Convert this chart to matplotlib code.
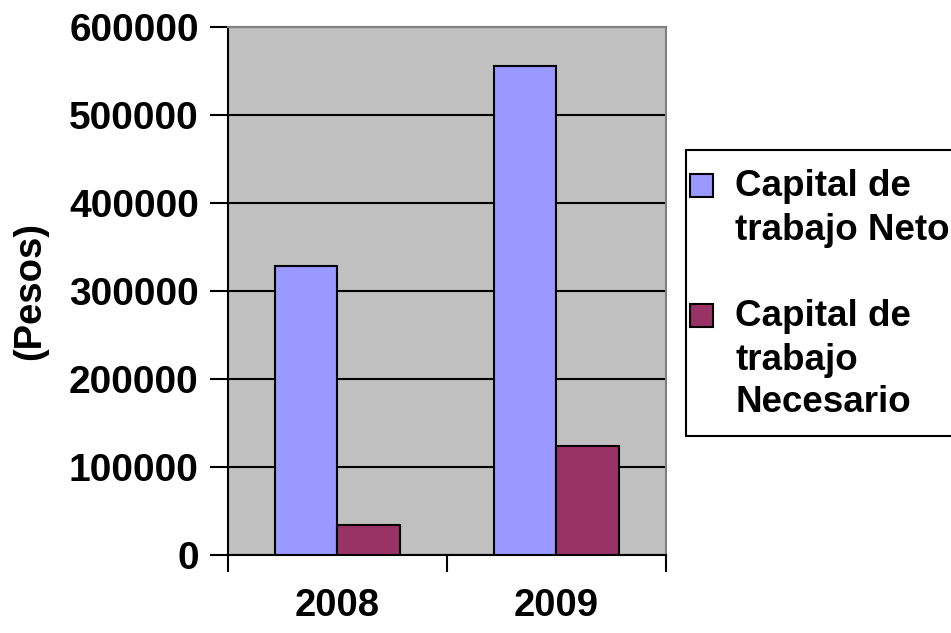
import matplotlib
matplotlib.use("Agg")
import matplotlib.pyplot as plt
from matplotlib.patches import Rectangle
import numpy as np

years = ["2008", "2009"]
neto = [328000, 555500]
necesario = [33800, 123500]
series_names = ["Capital de\ntrabajo Neto", "Capital de\ntrabajo\nNecesario"]
series_colors = ["#9999FF", "#993366"]
y_ticks = [0, 100000, 200000, 300000, 400000, 500000, 600000]

plt.rcParams['font.family'] = ['Liberation Sans', 'DejaVu Sans']
plt.rcParams['font.weight'] = 'bold'

fig = plt.figure(figsize=(9.51, 6.33), dpi=100)
ax = fig.add_axes([0.2397, 0.1232, 0.4606, 0.8341])
ax.set_facecolor("#C0C0C0")

x = np.arange(len(years))
w = 1 / 3.5  # gap width 150%
ax.bar(x - w / 2, neto, w, color=series_colors[0], edgecolor="black", linewidth=1.5, zorder=3)
ax.bar(x + w / 2, necesario, w, color=series_colors[1], edgecolor="black", linewidth=1.5, zorder=3)

ax.set_xlim(-0.5, len(years) - 0.5)
ax.set_ylim(0, 600000)
ax.set_yticks(y_ticks)
ax.set_yticklabels([str(v) for v in y_ticks], fontsize=28, fontweight="bold")
ax.yaxis.grid(True, color="black", linewidth=1.5, zorder=1)
ax.set_axisbelow(True)

# ticks between categories, labels at centres
ax.set_xticks(np.arange(-0.5, len(years), 1.0))
ax.set_xticklabels([])
ax.set_xticks(x, minor=True)
ax.set_xticklabels(years, minor=True, fontsize=27.5, fontweight="bold")
ax.tick_params(axis="x", which="major", direction="out", length=12, width=1.5)
ax.tick_params(axis="x", which="minor", length=0, pad=24)
ax.tick_params(axis="y", direction="out", length=13, width=1.5, pad=8)

for side in ["left", "bottom"]:
    ax.spines[side].set_color("black")
    ax.spines[side].set_linewidth(1.5)
for side in ["top", "right"]:
    ax.spines[side].set_color("#808080")
    ax.spines[side].set_linewidth(1.5)

ax.set_ylabel("(Pesos)", fontsize=27.5, fontweight="bold")
ax.yaxis.set_label_coords(-0.41, 0.5)

# legend box drawn by hand
W, H = 951, 633
def fx(px):
    return px / W
def fy(py):
    return 1 - py / H

fig.patches.append(Rectangle((fx(686), fy(436)), fx(300), (436 - 150) / H,
                             transform=fig.transFigure, facecolor="white",
                             edgecolor="black", linewidth=1.5, zorder=5))
entry_tops = [187, 317]
for name, color, ytop in zip(series_names, series_colors, entry_tops):
    fig.patches.append(Rectangle((fx(690), fy(ytop + 10)), fx(23), 23 / H,
                                 transform=fig.transFigure, facecolor=color,
                                 edgecolor="black", linewidth=1.5, zorder=6))
    for i, line in enumerate(name.split("\n")):
        fig.text(fx(735), fy(ytop + i * 43), line, fontsize=26.5, fontweight="bold",
                 ha="left", va="center", zorder=7)

fig.savefig("out.png", dpi=100, facecolor="white")
